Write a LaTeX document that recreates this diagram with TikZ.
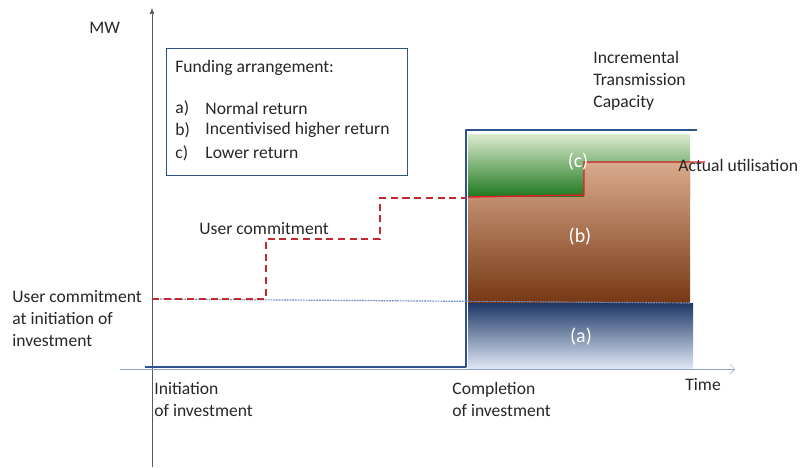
\documentclass[tikz,border=0pt]{standalone}
\usepackage{fontspec}
\setmainfont{Carlito}
\usetikzlibrary{arrows.meta}

\definecolor{capblue}{RGB}{47,82,143}
\definecolor{axisblue}{RGB}{140,165,208}
\definecolor{dotblue}{RGB}{110,140,195}
\definecolor{navytop}{RGB}{30,56,102}
\definecolor{navybot}{RGB}{222,230,245}
\definecolor{browntop}{RGB}{218,170,140}
\definecolor{brownbot}{RGB}{118,56,20}
\definecolor{greentop}{RGB}{220,235,207}
\definecolor{greenbot}{RGB}{30,120,30}
\definecolor{actred}{RGB}{225,30,40}
\definecolor{dashred}{RGB}{195,40,45}
\definecolor{txtgray}{RGB}{38,38,38}

\begin{document}
\begin{tikzpicture}[x=0.03cm,y=-0.03cm,
    font=\fontsize{15}{18.7}\selectfont,
    lbl/.style={inner sep=1pt,text=txtgray},
    band/.style={white,font=\fontsize{17}{19}\selectfont}]
    \useasboundingbox (0,0) rectangle (801,467);

    % funding bands
    \shade[top color=greentop,bottom color=greenbot] (468,134) rectangle (690,197);
    \shade[top color=browntop,bottom color=brownbot]
        (468,197) -- (584,197) -- (584,163) -- (690,163) -- (690,303) -- (468,303) -- cycle;
    \shade[top color=navytop,bottom color=navybot] (468,303) rectangle (693,368);

    % axes
    \draw[gray!70!black,-{Latex[length=5pt,width=4pt]}] (152,467) -- (152,8);
    \draw[axisblue,-{Straight Barb[length=4pt]}] (120,369) -- (735,369);

    % capacity
    \draw[capblue,line width=1.5pt,line join=round] (145,367) -- (466,367) -- (466,130) -- (697,130);

    % commitment at initiation
    \draw[dotblue,line width=1pt,dash pattern=on 1.5pt off 0.8pt] (152,299) -- (690,303);

    % user commitment steps
    \draw[dashred,line width=1.3pt,dash pattern=on 6pt off 4pt]
        (152,299) -- (266,299) -- (266,239) -- (380,239) -- (380,198) -- (466,198);

    % actual utilisation
    \draw[actred,line width=1.2pt] (468,197) -- (584,195) -- (584,162) -- (705,162);

    % band labels
    \node[band] (bandA) at (581,337) {(a)};
    \node[band] (bandB) at (580,237) {(b)};
    \node[band] (bandC) at (578,162) {(c)};

    % funding box
    \node[draw=capblue,line width=0.8pt,minimum width=7.23cm,minimum height=3.81cm,anchor=north west] (fund) at (166,48) {};
    \node[lbl,anchor=west] (fundhead) at (174,68) {Funding arrangement:};
    \foreach \key/\txt/\yy in {a/Normal return/108, b/Incentivised higher return/130, c/Lower return/153}{
        \node[lbl,anchor=west] (key\key) at (174,\yy) {\key)};
        \node[lbl,anchor=west] (txt\key) at (204,\yy) {\txt};
    }

    % text labels
    \node[lbl,anchor=west] (mw) at (88,28) {MW};
    \node[lbl,anchor=west] (time) at (684,385) {Time};
    \node[lbl,anchor=west] (usercommit) at (198,229) {User commitment};
    \node[lbl,anchor=north west,align=left] (initcommit) at (11,289) {User commitment\\at initiation of\\investment};
    \node[lbl,anchor=north west,align=left] (initiation) at (153,381) {Initiation\\of investment};
    \node[lbl,anchor=north west,align=left] (completion) at (451,381) {Completion\\of investment};
    \node[lbl,anchor=north west,align=left] (capacity) at (592,50) {Incremental\\Transmission\\Capacity};
    \node[lbl,anchor=west] (actual) at (677,165) {Actual utilisation};
\end{tikzpicture}
\end{document}
